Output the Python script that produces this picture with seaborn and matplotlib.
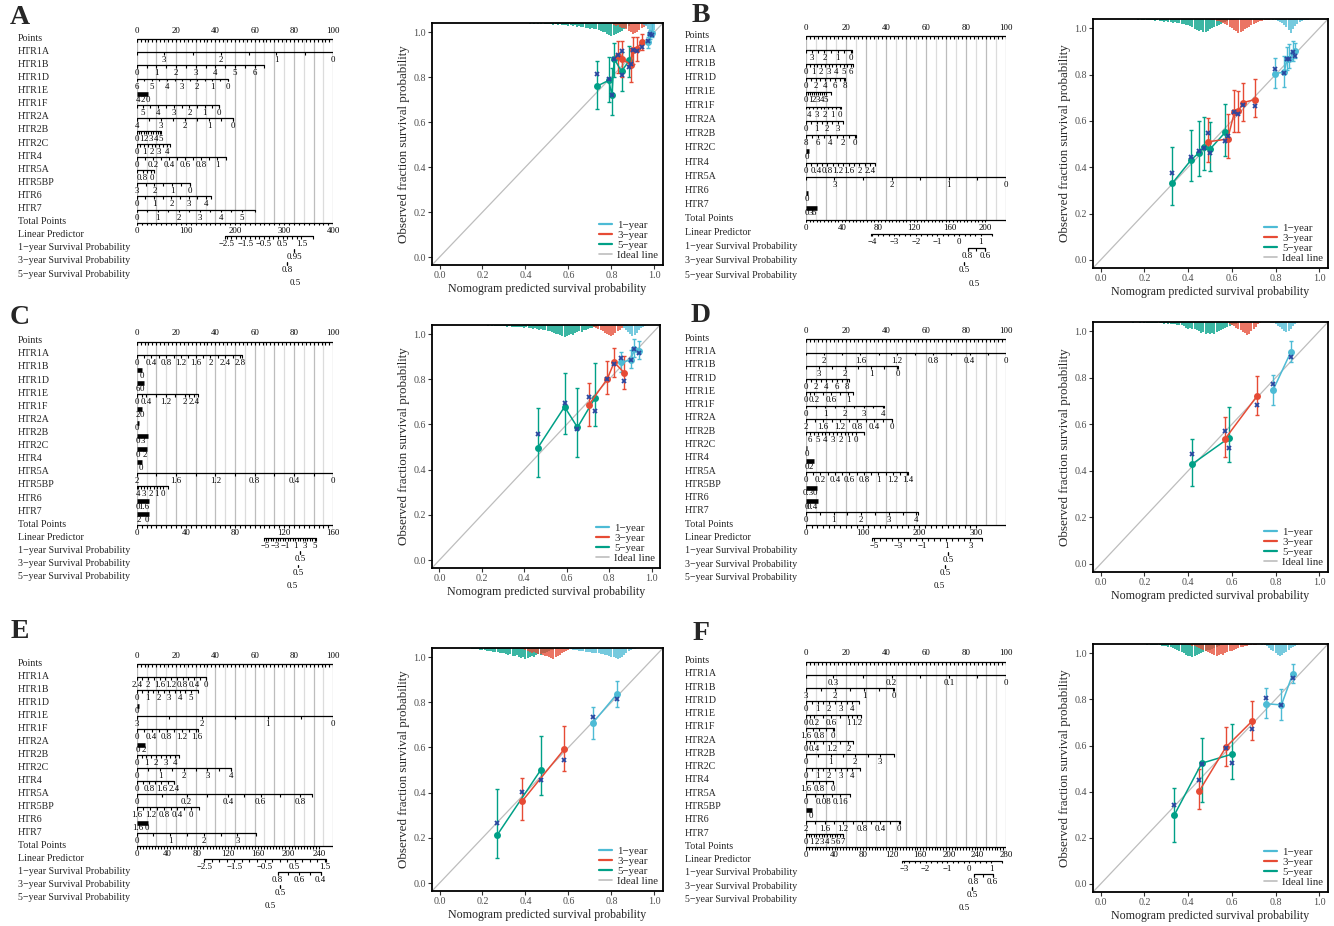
import numpy as np
import matplotlib
matplotlib.use("Agg")
import matplotlib.pyplot as plt
from matplotlib import transforms
from matplotlib.lines import Line2D
import seaborn as sns

# ------------------------------------------------------------------
# Nomogram scales: (variable, tick labels, position in points, axis extent)
# ------------------------------------------------------------------
points_labels = [0, 20, 40, 60, 80, 100]

A_vars = [
    ("HTR1A", ["3", "2", "1", "0"], [14, 43, 71, 100], (0, 100)),
    ("HTR1B", ["0", "1", "2", "3", "4", "5", "6"], [0, 10, 20, 30, 40, 50, 60], (0, 65)),
    ("HTR1D", ["6", "5", "4", "3", "2", "1", "0"], [0, 7.7, 15.4, 23.1, 30.8, 38.5, 46.2], (0, 46.5)),
    ("HTR1E", ["4", "2", "0"], [0.5, 3, 5.5], (0, 6)),
    ("HTR1F", ["5", "4", "3", "2", "1", "0"], [3, 11, 19, 26.8, 34.5, 42], (0, 42)),
    ("HTR2A", ["4", "3", "2", "1", "0"], [0, 12.3, 24.5, 36.8, 49], (0, 49)),
    ("HTR2B", ["0", "1", "2", "3", "4", "5"], [0, 2.4, 4.8, 7.2, 9.6, 12], (0, 12.5)),
    ("HTR2C", ["0", "1", "2", "3", "4"], [0, 3.8, 7.6, 11.4, 15.2], (0, 16.8)),
    ("HTR4", ["0", "0.2", "0.4", "0.6", "0.8", "1"], [0, 8.2, 16.4, 24.6, 32.8, 41], (0, 45.4)),
    ("HTR5A", ["0.8", "0"], [3, 7.5], (0, 8.8)),
    ("HTR5BP", ["3", "2", "1", "0"], [0, 9, 18, 27], (0, 27)),
    ("HTR6", ["0", "1", "2", "3", "4"], [0, 8.8, 17.6, 26.4, 35.2], (0, 37.6)),
    ("HTR7", ["0", "1", "2", "3", "4", "5"], [0, 10.7, 21.4, 32.1, 42.8, 53.5], (0, 60)),
]
A_total = ([0, 100, 200, 300, 400], 400)
A_lp = (["−2.5", "−1.5", "−0.5", "0.5", "1.5"], [183, 221, 259, 297, 335], (179, 358))
A_surv = [(["0.95"], [320]), (["0.8"], [306]), (["0.5"], [322])]

B_vars = [
    ("HTR1A", ["3", "2", "1", "0"], [2.8, 9.2, 15.8, 22.5], (0, 23)),
    ("HTR1B", ["0", "1", "2", "3", "4", "5", "6"], [0, 3.75, 7.5, 11.25, 15, 18.75, 22.5], (0, 23.5)),
    ("HTR1D", ["0", "2", "4", "6", "8"], [0, 4.8, 9.6, 14.4, 19.2], (0, 19.5)),
    ("HTR1E", ["0", "1", "2", "3", "4", "5"], [0, 2, 4, 6, 8, 10], (0, 12.5)),
    ("HTR1F", ["4", "3", "2", "1", "0"], [1.3, 5.3, 9.2, 13.2, 17], (0, 17.5)),
    ("HTR2A", ["0", "1", "2", "3"], [0, 5.3, 10.5, 15.8], (0, 18.7)),
    ("HTR2B", ["8", "6", "4", "2", "0"], [0, 6.1, 12.2, 18.3, 24.5], (0, 25)),
    ("HTR2C", ["0"], [0.5], (0, 1.5)),
    ("HTR4", ["0", "0.4", "0.8", "1.2", "1.6", "2", "2.4"], [0, 5.3, 10.7, 16, 21.3, 26.7, 32], (0, 34.5)),
    ("HTR5A", ["3", "2", "1", "0"], [14.2, 42.8, 71.4, 100], (0, 100)),
    ("HTR6", ["0"], [0.3], (0, 1.2)),
    ("HTR7", ["0", "3", "6"], [0.5, 2.2, 3.9], (0, 5.3)),
]
B_total = ([0, 40, 80, 120, 160, 200], 223)
B_lp = (["−4", "−3", "−2", "−1", "0", "1"], [74, 98.2, 122.4, 146.6, 170.8, 195], (73, 207))
B_surv = [(["0.8", "0.6"], [180.3, 199.6]), (["0.5"], [176.6]), (["0.5"], [187.4])]

C_vars = [
    ("HTR1A", ["0", "0.4", "0.8", "1.2", "1.6", "2", "2.4", "2.8"], [0, 7.5, 15, 22.5, 30, 37.5, 45, 52.5], (0, 53.5)),
    ("HTR1B", ["0"], [2.5], (0, 2.9)),
    ("HTR1D", ["6", "0"], [0.8, 2.6], (0, 3.7)),
    ("HTR1E", ["0", "0.4", "1.2", "2", "2.4"], [0, 4.9, 14.7, 24.4, 29.3], (0, 31)),
    ("HTR1F", ["2", "0"], [0.6, 2.5], (0, 2.9)),
    ("HTR2A", ["0"], [0.3], (0, 1.0)),
    ("HTR2B", ["0", "3"], [0.6, 3.2], (0, 5.8)),
    ("HTR2C", ["0", "2"], [0.6, 4.2], (0, 5.4)),
    ("HTR4", ["0"], [2.2], (0, 2.6)),
    ("HTR5A", ["2", "1.6", "1.2", "0.8", "0.4", "0"], [0, 20, 40, 60, 80, 100], (0, 100)),
    ("HTR5BP", ["4", "3", "2", "1", "0"], [0.5, 3.8, 7, 10.2, 13.4], (0, 15.8)),
    ("HTR6", ["0", "1.6"], [0.6, 3.8], (0, 6.3)),
    ("HTR7", ["2", "0"], [1, 5.4], (0, 6.3)),
]
C_total = ([0, 40, 80, 120, 160], 160)
C_lp = (["−5", "−3", "−1", "1", "3", "5"], [105, 113, 121, 129, 137, 145], (104, 146))
C_surv = [(["0.5"], [132.9]), (["0.5"], [131.5]), (["0.5"], [126.4])]

D_vars = [
    ("HTR1A", ["2", "1.6", "1.2", "0.8", "0.4", "0"], [9, 27.2, 45.4, 63.6, 81.8, 100], (0, 100)),
    ("HTR1B", ["3", "2", "1", "0"], [6.5, 19.5, 32.5, 45.7], (0, 46)),
    ("HTR1D", ["0", "2", "4", "6", "8"], [0, 5.1, 10.2, 15.3, 20.4], (0, 21.5)),
    ("HTR1E", ["0", "0.2", "0.6", "1"], [0, 4.2, 12.6, 21], (0, 23.3)),
    ("HTR1F", ["0", "1", "2", "3", "4"], [0, 9.6, 19.2, 28.8, 38.4], (0, 39)),
    ("HTR2A", ["2", "1.6", "1.2", "0.8", "0.4", "0"], [0, 8.6, 17.1, 25.7, 34.2, 42.8], (0, 43)),
    ("HTR2B", ["6", "5", "4", "3", "2", "1", "0"], [2, 5.8, 9.7, 13.5, 17.3, 21.2, 25], (0, 29)),
    ("HTR2C", ["0"], [0.2], (0, 0.6)),
    ("HTR4", ["0", "2"], [0.4, 2.2], (0, 4)),
    ("HTR5A", ["0", "0.2", "0.4", "0.6", "0.8", "1", "1.2", "1.4"], [0, 7.2, 14.5, 21.7, 29, 36.2, 43.4, 50.7], (0, 51)),
    ("HTR5BP", ["0.3", "0"], [1.2, 4.3], (0, 5.5)),
    ("HTR6", ["0", "0.4"], [0.5, 3.2], (0, 5.8)),
    ("HTR7", ["0", "1", "2", "3", "4"], [0, 13.8, 27.6, 41.4, 55.2], (0, 56)),
]
D_total = ([0, 100, 200, 300], 353)
D_lp = (["−5", "−3", "−1", "1", "3"], [120, 162.5, 205, 247.5, 290], (117, 310))
D_surv = [(["0.5"], [251]), (["0.5"], [245]), (["0.5"], [235])]

E_vars = [
    ("HTR1A", ["2.4", "2", "1.6", "1.2", "0.8", "0.4", "0"], [0, 5.85, 11.7, 17.55, 23.4, 29.25, 35.1], (0, 35.1)),
    ("HTR1B", ["0", "1", "2", "3", "4", "5"], [0, 5.5, 11, 16.5, 22, 27.5], (0, 31)),
    ("HTR1D", ["0"], [0.3], (0, 1.2)),
    ("HTR1E", ["3", "2", "1", "0"], [0, 33.3, 66.7, 100], (0, 100)),
    ("HTR1F", ["0", "0.4", "0.8", "1.2", "1.6"], [0, 7.6, 15.2, 22.8, 30.4], (0, 31)),
    ("HTR2A", ["0", "2"], [0.5, 3.5], (0, 4.2)),
    ("HTR2B", ["0", "1", "2", "3", "4"], [0, 4.9, 9.8, 14.7, 19.6], (0, 21.5)),
    ("HTR2C", ["0", "1", "2", "3", "4"], [0, 12, 24, 36, 48], (0, 48)),
    ("HTR4", ["0", "0.8", "1.6", "2.4"], [0, 6.3, 12.6, 18.9], (0, 19.2)),
    ("HTR5A", ["0", "0.2", "0.4", "0.6", "0.8"], [0, 25.4, 46.3, 63, 83], (0, 89)),
    ("HTR5BP", ["1.6", "1.2", "0.8", "0.4", "0"], [0, 6.9, 13.8, 20.7, 27.5], (0, 31.5)),
    ("HTR6", ["1.6", "0"], [0.5, 5], (0, 5.7)),
    ("HTR7", ["0", "1", "2", "3"], [0, 17, 34.2, 51.2], (0, 60.5)),
]
E_total = ([0, 40, 80, 120, 160, 200, 240], 259)
E_lp = (["−2.5", "−1.5", "−0.5", "0.5", "1.5"], [89, 128.7, 168.4, 208.1, 248], (89, 250))
E_surv = [(["0.8", "0.6", "0.4"], [185.7, 214.2, 242.3]), (["0.5"], [188.8]), (["0.5"], [175.6])]

F_vars = [
    ("HTR1A", ["0.3", "0.2", "0.1", "0"], [13.7, 42.8, 71.4, 100], (0, 100)),
    ("HTR1B", ["3", "2", "1", "0"], [0, 14.5, 29, 43.7], (0, 44)),
    ("HTR1D", ["0", "1", "2", "3", "4"], [0, 5.8, 11.6, 17.4, 23.2], (0, 26.5)),
    ("HTR1E", ["0", "0.2", "0.6", "1", "1.2"], [0, 4.2, 12.7, 21.1, 25.3], (0, 27.5)),
    ("HTR1F", ["1.6", "0.8", "0"], [0, 6.6, 13.3], (0, 14)),
    ("HTR2A", ["0", "0.4", "1.2", "2"], [0, 4.2, 12.7, 21.2], (0, 23.3)),
    ("HTR2B", ["0", "1", "2", "3"], [0, 12.3, 24.6, 36.9], (0, 44)),
    ("HTR2C", ["0", "1", "2", "3", "4"], [0, 5.8, 11.6, 17.4, 23.2], (0, 27)),
    ("HTR4", ["1.6", "0.8", "0"], [0, 6.6, 13.3], (0, 13.5)),
    ("HTR5A", ["0", "0.08", "0.16"], [0, 8.6, 17.2], (0, 22)),
    ("HTR5BP", ["0"], [2.2], (0, 3)),
    ("HTR6", ["2", "1.6", "1.2", "0.8", "0.4", "0"], [0, 9.3, 18.6, 27.9, 37.2, 46.5], (0, 47)),
    ("HTR7", ["0", "1", "2", "3", "4", "5", "6", "7"], [0, 2.6, 5.2, 7.9, 10.5, 13.1, 15.7, 18.3], (0, 18.3)),
]
F_total = ([0, 40, 80, 120, 160, 200, 240, 280], 280)
F_lp = (["−3", "−2", "−1", "0", "1"], [137, 167.5, 198, 228.5, 259], (134, 275))
F_surv = [(["0.8", "0.6"], [234.5, 261.3]), (["0.5"], [233]), (["0.5"], [222])]

# ------------------------------------------------------------------
# Calibration curves (predicted, observed, CI low/high, KM-corrected)
# ------------------------------------------------------------------
A_1y = dict(pred=[0.969, 0.981, 0.988], obs=[0.956, 0.990, 0.997],
            lo=[0.93, 0.97, 0.98], hi=[0.98, 1.01, 1.04], km=[0.960, 0.993, 0.985])
A_3y = dict(pred=[0.829, 0.847, 0.890, 0.902, 0.918, 0.940], obs=[0.895, 0.882, 0.855, 0.920, 0.925, 0.955],
            lo=[0.82, 0.80, 0.78, 0.86, 0.87, 0.92], hi=[0.96, 0.96, 0.93, 0.98, 0.98, 0.99],
            km=[0.899, 0.914, 0.856, 0.918, 0.915, 0.933])
A_5y = dict(pred=[0.732, 0.787, 0.802, 0.813, 0.847, 0.883], obs=[0.759, 0.785, 0.721, 0.881, 0.825, 0.874],
            lo=[0.66, 0.69, 0.63, 0.80, 0.74, 0.80], hi=[0.87, 0.89, 0.84, 0.95, 0.91, 0.94],
            km=[0.812, 0.793, 0.721, 0.880, 0.807, 0.844])

B_1y = dict(pred=[0.796, 0.840, 0.852, 0.863, 0.882, 0.890], obs=[0.804, 0.811, 0.866, 0.866, 0.895, 0.900],
            lo=[0.740, 0.745, 0.820, 0.830, 0.860, 0.870], hi=[0.870, 0.880, 0.920, 0.930, 0.945, 0.935],
            km=[0.826, 0.808, 0.866, 0.866, 0.898, 0.880])
B_3y = dict(pred=[0.493, 0.581, 0.612, 0.629, 0.652, 0.704], obs=[0.510, 0.522, 0.638, 0.641, 0.679, 0.692],
            lo=[0.423, 0.440, 0.550, 0.550, 0.600, 0.615], hi=[0.612, 0.630, 0.735, 0.730, 0.765, 0.782],
            km=[0.549, 0.535, 0.637, 0.629, 0.670, 0.666])
B_5y = dict(pred=[0.327, 0.415, 0.449, 0.475, 0.502, 0.570], obs=[0.330, 0.433, 0.462, 0.488, 0.480, 0.551],
            lo=[0.238, 0.339, 0.362, 0.387, 0.385, 0.450], hi=[0.487, 0.561, 0.599, 0.615, 0.596, 0.673],
            km=[0.374, 0.443, 0.472, 0.481, 0.461, 0.513])

C_1y = dict(pred=[0.857, 0.902, 0.919, 0.941], obs=[0.875, 0.885, 0.935, 0.926],
            lo=[0.83, 0.85, 0.90, 0.89], hi=[0.92, 0.93, 0.98, 0.97], km=[0.895, 0.885, 0.935, 0.915])
C_3y = dict(pred=[0.704, 0.791, 0.824, 0.871], obs=[0.686, 0.801, 0.875, 0.829],
            lo=[0.593, 0.735, 0.811, 0.755], hi=[0.785, 0.882, 0.940, 0.903], km=[0.723, 0.800, 0.867, 0.792])
C_5y = dict(pred=[0.464, 0.590, 0.651, 0.734], obs=[0.497, 0.678, 0.587, 0.718],
            lo=[0.366, 0.560, 0.457, 0.593], hi=[0.671, 0.826, 0.760, 0.870], km=[0.556, 0.696, 0.578, 0.661])

D_1y = dict(pred=[0.789, 0.871], obs=[0.748, 0.913], lo=[0.684, 0.870], hi=[0.814, 0.959], km=[0.772, 0.891])
D_3y = dict(pred=[0.568, 0.714], obs=[0.536, 0.720], lo=[0.461, 0.641], hi=[0.633, 0.809], km=[0.572, 0.684])
D_5y = dict(pred=[0.420, 0.589], obs=[0.430, 0.543], lo=[0.336, 0.439], hi=[0.539, 0.674], km=[0.471, 0.497])

E_1y = dict(pred=[0.712, 0.826], obs=[0.707, 0.837], lo=[0.637, 0.778], hi=[0.781, 0.896], km=[0.735, 0.815])
E_3y = dict(pred=[0.385, 0.581], obs=[0.363, 0.593], lo=[0.277, 0.496], hi=[0.464, 0.696], km=[0.403, 0.545])
E_5y = dict(pred=[0.268, 0.470], obs=[0.212, 0.499], lo=[0.111, 0.388], hi=[0.415, 0.652], km=[0.267, 0.456])

F_1y = dict(pred=[0.758, 0.827, 0.879], obs=[0.781, 0.776, 0.911],
            lo=[0.720, 0.712, 0.872], hi=[0.850, 0.846, 0.952], km=[0.807, 0.775, 0.894])
F_3y = dict(pred=[0.452, 0.573, 0.692], obs=[0.404, 0.593, 0.705],
            lo=[0.324, 0.513, 0.625], hi=[0.496, 0.679, 0.795], km=[0.449, 0.589, 0.672])
F_5y = dict(pred=[0.336, 0.462, 0.602], obs=[0.297, 0.523, 0.563],
            lo=[0.182, 0.356, 0.453], hi=[0.417, 0.632, 0.693], km=[0.342, 0.522, 0.526])

# spike histograms of predicted probability along the top (first bin, depths per 0.01 bin)
A_spk_5y = (0.40, [0.002, 0.000, 0.003, 0.001, 0.004, 0.002, 0.003, 0.005, 0.002, 0.004,
                   0.006, 0.003, 0.005, 0.007, 0.004, 0.008, 0.005, 0.009, 0.007, 0.010,
                   0.012, 0.009, 0.014, 0.011, 0.016, 0.014, 0.019, 0.017, 0.022, 0.020,
                   0.025, 0.023, 0.028, 0.026, 0.031, 0.034, 0.038, 0.042, 0.047, 0.052,
                   0.056, 0.053, 0.049, 0.044, 0.040, 0.035, 0.028, 0.020, 0.012, 0.006])
A_spk_3y = (0.80, [0.004, 0.008, 0.012, 0.010, 0.018, 0.022, 0.020, 0.028, 0.034, 0.040,
                   0.048, 0.044, 0.038, 0.030, 0.024, 0.016, 0.010, 0.005])
A_spk_1y = (0.95, [0.008, 0.015, 0.028, 0.045, 0.050, 0.030])

B_spk_5y = (0.15, [0.002, 0.001, 0.003, 0.002, 0.004, 0.003, 0.005, 0.004, 0.006, 0.005,
                   0.007, 0.006, 0.009, 0.008, 0.011, 0.010, 0.013, 0.012, 0.016, 0.015,
                   0.019, 0.018, 0.022, 0.021, 0.026, 0.028, 0.032, 0.036, 0.042, 0.048,
                   0.052, 0.046, 0.055, 0.057, 0.050, 0.045, 0.040, 0.034, 0.030, 0.024,
                   0.020, 0.015, 0.012, 0.008, 0.006, 0.004, 0.003, 0.002])
B_spk_3y = (0.50, [0.002, 0.004, 0.006, 0.008, 0.010, 0.014, 0.018, 0.022, 0.028, 0.034,
                   0.040, 0.046, 0.052, 0.060, 0.055, 0.050, 0.044, 0.040, 0.034, 0.028,
                   0.022, 0.018, 0.014, 0.010, 0.008, 0.006, 0.004, 0.003, 0.002])
B_spk_1y = (0.78, [0.002, 0.004, 0.006, 0.009, 0.012, 0.018, 0.025, 0.035, 0.048, 0.060,
                   0.045, 0.030, 0.020, 0.012, 0.008, 0.005, 0.004, 0.003, 0.002])

C_spk_5y = (0.20, [0.002, 0.001, 0.002, 0.003, 0.002, 0.003, 0.004, 0.003, 0.005, 0.004,
                   0.006, 0.005, 0.007, 0.006, 0.008, 0.007, 0.009, 0.008, 0.010, 0.011,
                   0.012, 0.010, 0.014, 0.013, 0.016, 0.015, 0.018, 0.020, 0.019, 0.022,
                   0.024, 0.028, 0.026, 0.032, 0.035, 0.038, 0.042, 0.046, 0.050, 0.055,
                   0.050, 0.045, 0.040, 0.044, 0.036, 0.032, 0.028, 0.030, 0.024, 0.020,
                   0.018, 0.015, 0.012, 0.010, 0.008, 0.006, 0.005, 0.004, 0.003, 0.002])
C_spk_3y = (0.72, [0.004, 0.008, 0.012, 0.016, 0.022, 0.028, 0.034, 0.040, 0.046, 0.050,
                   0.044, 0.036, 0.028, 0.020, 0.012, 0.006, 0.003])
C_spk_1y = (0.86, [0.006, 0.012, 0.020, 0.032, 0.042, 0.050, 0.045, 0.036, 0.024, 0.014, 0.008, 0.004])

D_spk_5y = (0.10, [0.001, 0.002, 0.001, 0.002, 0.001, 0.003, 0.002, 0.002, 0.003, 0.002,
                   0.003, 0.004, 0.003, 0.004, 0.005, 0.004, 0.005, 0.006, 0.005, 0.007,
                   0.006, 0.008, 0.007, 0.009, 0.010, 0.012, 0.011, 0.014, 0.018, 0.024,
                   0.028, 0.026, 0.032, 0.030, 0.036, 0.040, 0.046, 0.044, 0.050, 0.048,
                   0.052, 0.046, 0.050, 0.044, 0.040, 0.036, 0.030, 0.026, 0.020, 0.016,
                   0.012, 0.010, 0.008, 0.006, 0.004, 0.003, 0.002, 0.001])
D_spk_3y = (0.58, [0.004, 0.008, 0.012, 0.018, 0.024, 0.030, 0.036, 0.042, 0.048, 0.055,
                   0.050, 0.040, 0.030, 0.020, 0.010, 0.004])
D_spk_1y = (0.78, [0.003, 0.006, 0.010, 0.016, 0.022, 0.030, 0.038, 0.045, 0.040, 0.030,
                   0.018, 0.008, 0.004])

E_spk_5y = (0.15, [0.003, 0.004, 0.006, 0.005, 0.008, 0.010, 0.009, 0.012, 0.014, 0.013,
                   0.016, 0.018, 0.017, 0.020, 0.024, 0.022, 0.028, 0.030, 0.026, 0.034,
                   0.036, 0.032, 0.040, 0.044, 0.038, 0.050, 0.046, 0.042, 0.036, 0.040,
                   0.032, 0.028, 0.030, 0.024, 0.020, 0.016, 0.012, 0.010, 0.008, 0.006,
                   0.004, 0.002])
E_spk_3y = (0.38, [0.004, 0.006, 0.010, 0.012, 0.016, 0.020, 0.018, 0.024, 0.028, 0.026,
                   0.032, 0.036, 0.034, 0.040, 0.044, 0.050, 0.042, 0.036, 0.030, 0.024,
                   0.018, 0.012, 0.008, 0.005, 0.003])
E_spk_1y = (0.58, [0.003, 0.004, 0.006, 0.005, 0.008, 0.010, 0.009, 0.012, 0.014, 0.013,
                   0.016, 0.018, 0.017, 0.020, 0.022, 0.020, 0.024, 0.026, 0.028, 0.030,
                   0.032, 0.034, 0.038, 0.042, 0.046, 0.050, 0.044, 0.038, 0.030, 0.022,
                   0.014, 0.008, 0.005, 0.003, 0.002])

F_spk_5y = (0.20, [0.002, 0.003, 0.002, 0.004, 0.003, 0.005, 0.004, 0.006, 0.008, 0.007,
                   0.010, 0.012, 0.014, 0.018, 0.022, 0.026, 0.030, 0.034, 0.040, 0.046,
                   0.050, 0.054, 0.058, 0.052, 0.048, 0.044, 0.040, 0.036, 0.032, 0.028,
                   0.024, 0.020, 0.016, 0.012, 0.009, 0.006, 0.004, 0.002])
F_spk_3y = (0.40, [0.003, 0.005, 0.008, 0.010, 0.014, 0.018, 0.022, 0.026, 0.030, 0.034,
                   0.038, 0.042, 0.046, 0.050, 0.048, 0.044, 0.046, 0.040, 0.036, 0.030,
                   0.032, 0.026, 0.022, 0.018, 0.014, 0.012, 0.010, 0.008, 0.006, 0.005,
                   0.004, 0.003, 0.002])
F_spk_1y = (0.74, [0.003, 0.006, 0.010, 0.016, 0.024, 0.032, 0.040, 0.046, 0.050, 0.046,
                   0.040, 0.034, 0.026, 0.018, 0.012, 0.008, 0.004, 0.002])

year_labels = ["1−year", "3−year", "5−year"]
year_colors = ["#4DBBD5", "#E64B35", "#00A087"]
km_color = "#2A47A0"

# ------------------------------------------------------------------
sns.set_theme(style="white")
plt.rcParams["font.family"] = ["Liberation Serif", "DejaVu Serif"]

W, H = 1334, 926
fig = plt.figure(figsize=(W / 100, H / 100), dpi=100)


def fig_axes(x0, y0, x1, y1):
    # pixel box (top-left origin) -> figure axes
    return fig.add_axes([x0 / W, 1 - y1 / H, (x1 - x0) / W, (y1 - y0) / H])


def draw_scale(ax, y, labels, pos, line, rp, sub=2, above=False, bar_ok=True):
    ly = y + 1.0 / rp
    lo, hi = line
    if bar_ok and 0 < hi - lo < 7:
        ax.plot([lo, hi], [ly + 2.2 / rp] * 2, color="black", lw=3.3, solid_capstyle="butt")
    else:
        if hi > lo:
            ax.plot([lo, hi], [ly, ly], color="black", lw=0.9)
        ticks = list(pos) + [lo, hi]
        for a, b in zip(pos[:-1], pos[1:]):
            ticks += [a + (b - a) * k / sub for k in range(1, sub)]
        ax.vlines(ticks, ly, ly + 2.8 / rp, color="black", lw=0.8)
    ty = y - 7.5 / rp if above else y + 9.0 / rp
    for lab, p in zip(labels, pos):
        ax.text(p, ty, lab, ha="center", va="center", fontsize=6.3, color="black")


def draw_nomogram(box, label_px, variables, total, lp, surv):
    zero, hundred, ytop, ybot = box
    n = len(variables) + 6
    ax = fig_axes(zero, ytop, hundred, ybot)
    ax.set_xlim(0, 100)
    ax.set_ylim(n - 1, 0)
    ax.axis("off")
    rp = (ybot - ytop) / (n - 1)

    names = (["Points"] + [v[0] for v in variables] + ["Total Points", "Linear Predictor"]
             + [f"{k}−year Survival Probability" for k in (1, 3, 5)])
    tr = transforms.blended_transform_factory(ax.transAxes, ax.transData)
    lx = (label_px - zero) / (hundred - zero)
    for i, name in enumerate(names):
        ax.text(lx, i, name, transform=tr, ha="left", va="center", fontsize=7.2)

    # vertical reference lines
    tot_row = len(variables) + 1
    for p in range(0, 101, 5):
        col = "#BDBDBD" if p % 10 == 0 else "#DCDCDC"
        ax.vlines(p, 1.0 / rp, tot_row + 1.0 / rp, color=col, lw=0.9, zorder=0)

    draw_scale(ax, 0, [str(v) for v in points_labels], points_labels, (0, 100), rp, sub=10, above=True)
    for i, (name, labels, pos, line) in enumerate(variables, start=1):
        draw_scale(ax, i, labels, pos, line, rp)

    t_labels, t_max = total
    k = 100.0 / t_max
    draw_scale(ax, tot_row, [str(v) for v in t_labels], [v * k for v in t_labels], (0, 100), rp, sub=10)
    lp_labels, lp_pos, lp_line = lp
    draw_scale(ax, tot_row + 1, lp_labels, [p * k for p in lp_pos],
               (lp_line[0] * k, lp_line[1] * k), rp, sub=4, bar_ok=False)
    for j, (labels, pos) in enumerate(surv):
        sp = [p * k for p in pos]
        draw_scale(ax, tot_row + 2 + j, labels, sp, (min(sp), max(sp)), rp, bar_ok=False)


def draw_calibration(box, series, spikes):
    ax = fig_axes(*box)
    top = 1.04
    ax.set_xlim(-0.035, 1.04)
    ax.set_ylim(-0.035, top)
    for (x0, depth), col in zip(spikes, year_colors[::-1]):
        depth = np.asarray(depth)
        xs = x0 + 0.01 * np.arange(len(depth))
        ax.vlines(xs, top - depth, top, color=col, lw=1.1, zorder=1)
    ax.axline((0, 0), (1, 1), color="#BDBDBD", lw=0.9, zorder=1)
    for d, col in zip(series, year_colors[::-1]):
        pred, obs = np.asarray(d["pred"]), np.asarray(d["obs"])
        err = [obs - np.asarray(d["lo"]), np.asarray(d["hi"]) - obs]
        ax.errorbar(pred, obs, yerr=err, fmt="none", ecolor=col, elinewidth=1.0,
                    capsize=1.6, capthick=1.0, zorder=2)
        sns.lineplot(x=pred, y=obs, color=col, lw=1.1, marker="o", markersize=5,
                     markeredgewidth=0, ax=ax, zorder=3)
    for d in series:
        ax.plot(d["pred"], d["km"], linestyle="none", marker="x", ms=3.4, mew=1.3,
                color=km_color, zorder=4)

    ticks = np.arange(0, 1.01, 0.2)
    ax.set_xticks(ticks)
    ax.set_yticks(ticks)
    ax.set_xticklabels([f"{t:.1f}" for t in ticks])
    ax.set_yticklabels([f"{t:.1f}" for t in ticks])
    ax.tick_params(direction="out", length=3, width=0.8, color="#333333",
                   labelcolor="#4D4D4D", labelsize=7.2, pad=1.5, left=True, bottom=True)
    for s in ax.spines.values():
        s.set_color("black")
        s.set_linewidth(1.3)
    ax.set_xlabel("Nomogram predicted survival probability", fontsize=8.6, labelpad=2)
    ax.set_ylabel("Observed fraction survival probability", fontsize=9.4, labelpad=2)

    handles = [Line2D([], [], color=c, lw=1.6) for c in year_colors]
    handles.append(Line2D([], [], color="#BDBDBD", lw=1.2))
    ax.legend(handles, year_labels + ["Ideal line"], loc="lower right", frameon=False,
              fontsize=7.8, handlelength=1.2, handletextpad=0.5, labelspacing=0.05,
              borderaxespad=0.05)


panels = [
    ("A", (20, 17), (136.7, 333.3, 38.3, 274), 18, A_vars, A_total, A_lp, A_surv,
     (432, 23, 663, 265), [A_5y, A_3y, A_1y], [A_spk_5y, A_spk_3y, A_spk_1y]),
    ("B", (701, 16), (806, 1006, 35, 275), 685, B_vars, B_total, B_lp, B_surv,
     (1093, 19, 1328, 268), [B_5y, B_3y, B_1y], [B_spk_5y, B_spk_3y, B_spk_1y]),
    ("C", (20, 317), (136.7, 333.3, 340.7, 576.7), 18, C_vars, C_total, C_lp, C_surv,
     (432, 325, 660, 568), [C_5y, C_3y, C_1y], [C_spk_5y, C_spk_3y, C_spk_1y]),
    ("D", (701, 316), (806, 1006, 338.3, 577.3), 685, D_vars, D_total, D_lp, D_surv,
     (1093, 322, 1328, 572), [D_5y, D_3y, D_1y], [D_spk_5y, D_spk_3y, D_spk_1y]),
    ("E", (20, 632), (136.7, 333.3, 663.3, 897.3), 18, E_vars, E_total, E_lp, E_surv,
     (432, 648, 663, 891), [E_5y, E_3y, E_1y], [E_spk_5y, E_spk_3y, E_spk_1y]),
    ("F", (701, 633), (806, 1006, 660.7, 899.3), 685, F_vars, F_total, F_lp, F_surv,
     (1093, 644, 1328, 892), [F_5y, F_3y, F_1y], [F_spk_5y, F_spk_3y, F_spk_1y]),
]

for letter, lpos, nbox, lab_px, vars_, tot, lp, surv, cbox, cal, spk in panels:
    fig.text(lpos[0] / W, 1 - lpos[1] / H, letter, fontsize=20, fontweight="bold",
             ha="center", va="center")
    draw_nomogram(nbox, lab_px, vars_, tot, lp, surv)
    draw_calibration(cbox, cal, spk)

fig.savefig("out.png", dpi=100, facecolor="white")
